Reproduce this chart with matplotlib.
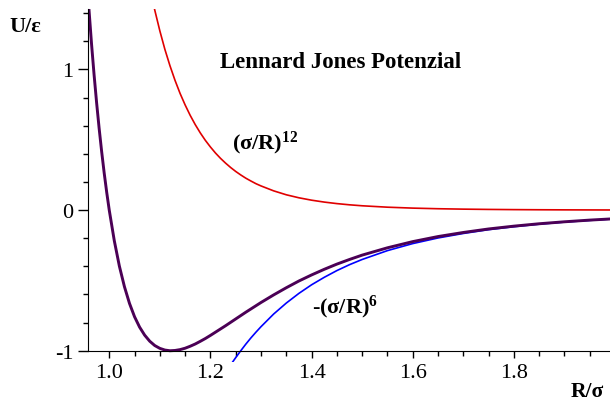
import numpy as np
import matplotlib.pyplot as plt
from matplotlib.ticker import MultipleLocator

plt.rcParams['font.family'] = ['Liberation Serif', 'DejaVu Serif']
plt.rcParams['mathtext.fontset'] = 'custom'
plt.rcParams['mathtext.rm'] = 'Liberation Serif'
plt.rcParams['mathtext.bf'] = 'Liberation Serif:bold'

# abstand R/sigma
r = [0.958, 0.965, 0.97, 0.975, 0.98, 0.985, 0.99, 0.995, 1.00,
     1.01, 1.02, 1.03, 1.04, 1.05, 1.06, 1.07, 1.08, 1.09, 1.10,
     1.11, 1.12, 1.13, 1.14, 1.15, 1.16, 1.17, 1.18, 1.19, 1.20,
     1.21, 1.22, 1.23, 1.24, 1.25, 1.26, 1.27, 1.28, 1.29, 1.30,
     1.325, 1.35, 1.375, 1.40, 1.425, 1.45, 1.475, 1.50,
     1.55, 1.60, 1.65, 1.70, 1.75, 1.80, 1.85, 1.90, 1.95, 1.99]

# abstossender teil
u_rep = [6.695, 6.134, 5.765, 5.420, 5.098, 4.795, 4.513, 4.248, 4.000,
         3.550, 3.154, 2.806, 2.498, 2.227, 1.988, 1.776, 1.588, 1.422, 1.275,
         1.143, 1.027, 0.923, 0.830, 0.748, 0.674, 0.608, 0.549, 0.496, 0.449,
         0.406, 0.368, 0.334, 0.303, 0.275, 0.250, 0.227, 0.207, 0.188, 0.172,
         0.137, 0.109, 0.0876, 0.0706, 0.0571, 0.0463, 0.0377, 0.0308,
         0.0208, 0.0142, 0.0098, 0.0069, 0.0049, 0.0035, 0.0025, 0.0018, 0.0013, 0.0010]

# anziehender teil
u_att = [-5.175, -4.953, -4.802, -4.656, -4.516, -4.380, -4.249, -4.122, -4.000,
         -3.768, -3.552, -3.350, -3.161, -2.985, -2.820, -2.665, -2.521, -2.385, -2.258,
         -2.139, -2.027, -1.921, -1.822, -1.729, -1.642, -1.559, -1.482, -1.409, -1.340,
         -1.275, -1.213, -1.155, -1.100, -1.049, -1.000, -0.953, -0.909, -0.868, -0.829,
         -0.739, -0.661, -0.592, -0.531, -0.478, -0.430, -0.388, -0.351,
         -0.288, -0.238, -0.198, -0.166, -0.139, -0.118, -0.100, -0.085, -0.073, -0.064]

# lennard jones gesamt
u_lj = [1.520, 1.181, 0.963, 0.764, 0.582, 0.416, 0.264, 0.126, 0.000,
        -0.218, -0.398, -0.544, -0.663, -0.758, -0.832, -0.889, -0.932, -0.963, -0.983,
        -0.995, -1.000, -0.998, -0.992, -0.982, -0.968, -0.952, -0.933, -0.913, -0.891,
        -0.868, -0.845, -0.822, -0.798, -0.774, -0.750, -0.726, -0.703, -0.680, -0.657,
        -0.603, -0.552, -0.504, -0.461, -0.421, -0.384, -0.351, -0.320,
        -0.268, -0.224, -0.188, -0.159, -0.134, -0.114, -0.097, -0.083, -0.071, -0.063]

fig = plt.figure(figsize=(6.1, 4.02), dpi=100)
ax = fig.add_axes([88/610, 39/402, 522/610, 353/402])

ax.plot(r, u_rep, color='#e00000', lw=1.2, solid_joinstyle='round')
ax.plot(r, u_att, color='#0000ff', lw=1.2, solid_joinstyle='round')
ax.plot(r, u_lj, color='#4b0055', lw=2.1, solid_joinstyle='round')

ax.set_xlim(0.958, 1.99)
ax.set_ylim(-1.08, 1.43)

ax.spines['top'].set_visible(False)
ax.spines['right'].set_visible(False)
ax.spines['bottom'].set_position(('data', -1))
ax.spines['left'].set_bounds(-1, 1.43)

ax.xaxis.set_minor_locator(MultipleLocator(0.05))
ax.yaxis.set_minor_locator(MultipleLocator(0.2))
ax.set_xticks([1.0, 1.2, 1.4, 1.6, 1.8])
ax.set_xticklabels(['1.0', '1.2', '1.4', '1.6', '1.8'])
ax.set_yticks([-1, 0, 1])
ax.set_yticklabels(['-1', '0', '1'])

ax.tick_params(axis='x', which='major', direction='out', length=5, width=1, pad=4, labelsize=16)
ax.tick_params(axis='x', which='minor', direction='out', length=3.5, width=1)
ax.tick_params(axis='y', which='major', direction='out', length=7.5, width=1, pad=3, labelsize=16)
ax.tick_params(axis='y', which='minor', direction='out', length=3.5, width=1)

def px(x, y):
    return x / 610, 1 - y / 402

fig.text(*px(9, 32), 'U/ε', fontsize=16, fontweight='bold', va='baseline')
fig.text(*px(571, 397), 'R/σ', fontsize=15.5, fontweight='bold', va='baseline')
fig.text(*px(220, 68), 'Lennard Jones Potenzial', fontsize=16.5, fontweight='bold', va='baseline')
fig.text(*px(232, 149), r'$\mathbf{(σ/R)^{12}}$', fontsize=16, va='baseline')
fig.text(*px(312, 313), r'-$\mathbf{(σ/R)^{6}}$', fontsize=16, fontweight='bold', va='baseline')

fig.savefig('out.png', dpi=100)
